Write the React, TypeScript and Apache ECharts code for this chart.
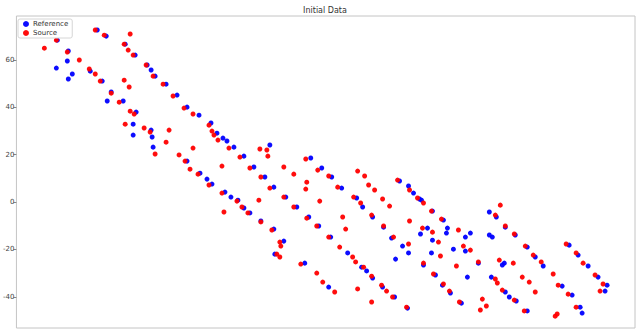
import React, { useEffect, useRef } from "react";
import * as echarts from "echarts";

const chartTitle = "Initial Data";
const seriesNames = ["Reference", "Source"];
const yTickValues = [-40, -20, 0, 20, 40, 60];

const referencePoints: [number, number][] = [
  [41, 68.4], [40, 56.6], [52, 63.8], [51, 59.6], [52, 52.0], [56, 54.1],
  [81, 72.7], [90, 70.1], [109, 66.7], [119, 62.1], [74, 55.3], [86, 51.1],
  [95, 46.5], [91, 42.7], [107, 42.7], [120, 38.0], [131, 57.9], [135, 55.8],
  [139, 53.2], [150, 49.8], [161, 45.2], [171, 40.1], [183, 36.7], [117, 32.9],
  [117, 28.3], [135, 30.4], [136, 27.5], [137, 23.2], [171, 17.3], [184, 12.2],
  [195, 33.4], [201, 29.1], [191, 9.7], [196, 7.6], [207, 27.0], [211, 25.8],
  [218, 23.2], [228, 19.4], [238, 14.8], [254, 24.1], [249, 10.6], [258, 6.3],
  [270, 2.1], [295, 18.6], [306, 14.4], [316, 10.6], [281, -2.1], [293, -6.3],
  [326, 5.9], [341, 1.7], [347, -2.1], [357, -6.3], [384, 8.9], [393, 6.8],
  [398, 3.8], [404, 1.3], [215, 2.1], [209, 4.2], [222, 0.8], [228, -2.5],
  [234, -4.6], [245, -8.0], [258, -11.4], [303, -10.1], [406, 0.8], [417, -3.8],
  [428, -7.6], [432, -11.0], [412, -11.0], [474, -4.2], [481, -6.3], [490, -10.6],
  [268, -16.5], [259, -22.0], [289, -25.8], [315, -14.8], [332, -21.5], [346, -27.5],
  [351, -29.1], [357, -32.1], [313, -35.9], [367, -35.9], [379, -40.1], [392, -44.8],
  [368, -10.6], [376, -15.2], [405, -13.5], [387, -18.6], [393, -21.5], [380, -24.1],
  [431, -13.1], [450, -14.8], [455, -13.1], [417, -16.1], [438, -19.9], [450, -20.7],
  [416, -21.5], [408, -26.6], [463, -25.8], [474, -13.9], [477, -14.8], [500, -13.9],
  [512, -19.0], [520, -23.2], [528, -27.0], [547, -35.5], [557, -39.3], [565, -44.4],
  [567, -46.9], [554, -18.2], [563, -22.4], [573, -27.0], [583, -31.7], [592, -35.1],
  [590, -37.6], [489, -25.8], [487, -26.6], [452, -31.7], [420, -30.8], [476, -31.7],
  [490, -38.0], [494, -40.1], [501, -41.8], [427, -35.1], [435, -38.4], [446, -42.7],
  [512, -46.0],
];

const sourcePoints: [number, number][] = [
  [35, 70.5], [28, 65.0], [40, 68.4], [51, 63.4], [63, 60.0], [79, 72.7],
  [88, 70.5], [114, 71.0], [108, 66.7], [112, 64.2], [117, 62.1], [73, 56.2],
  [79, 54.1], [84, 51.1], [95, 46.0], [103, 42.2], [108, 51.5], [113, 48.6],
  [114, 38.4], [118, 37.2], [130, 57.9], [137, 53.2], [147, 49.8], [157, 44.8],
  [168, 39.7], [177, 37.2], [109, 32.9], [128, 31.3], [134, 29.6], [139, 20.3],
  [150, 25.3], [153, 30.4], [163, 19.9], [169, 17.3], [174, 13.9], [182, 11.8],
  [177, 22.8], [193, 32.5], [196, 30.0], [198, 28.3], [202, 26.2], [193, 7.2],
  [206, 3.8], [206, 15.2], [213, 22.8], [224, 19.0], [234, 14.4], [244, 22.4],
  [251, 22.0], [252, 19.4], [245, 10.6], [254, 5.9], [268, 14.8], [278, 11.8],
  [268, 2.1], [243, 0.8], [291, 8.4], [290, 5.5], [290, 18.2], [302, 13.5],
  [313, 11.0], [278, -2.1], [304, 0.4], [291, -6.8], [322, 6.3], [338, 2.1],
  [345, -0.4], [327, -6.3], [342, 13.1], [349, 11.0], [353, 7.2], [359, 5.1],
  [367, 1.3], [374, -1.7], [356, -5.5], [368, -10.1], [382, 9.3], [394, 5.1],
  [402, 1.7], [394, -8.0], [208, -4.2], [221, 0.4], [226, -2.1], [232, -4.6],
  [245, -8.4], [256, -11.8], [301, -10.1], [330, -11.4], [408, -0.4], [416, -3.8],
  [426, -7.2], [407, -11.0], [443, -11.8], [485, -1.3], [480, -5.5], [490, -10.1],
  [264, -16.9], [265, -18.6], [261, -22.0], [264, -23.2], [285, -26.2], [313, -14.8],
  [324, -19.0], [337, -23.2], [340, -25.3], [348, -27.5], [356, -31.3], [301, -30.0],
  [307, -33.8], [319, -38.0], [342, -36.7], [356, -42.2], [366, -35.1], [371, -37.6],
  [377, -40.1], [391, -44.4], [378, -14.8], [393, -17.7], [417, -12.7], [423, -16.9],
  [448, -18.6], [455, -20.3], [425, -22.8], [408, -25.8], [441, -27.0], [463, -25.3],
  [499, -13.5], [510, -18.6], [518, -22.4], [526, -25.3], [538, -30.4], [543, -35.1],
  [553, -38.9], [561, -44.4], [551, -17.7], [561, -21.5], [568, -25.8], [580, -30.8],
  [588, -34.6], [585, -37.6], [484, -24.5], [498, -25.8], [480, -32.5], [482, -34.2],
  [507, -31.7], [514, -33.8], [520, -38.0], [487, -37.2], [499, -41.4], [428, -34.6],
  [434, -37.6], [444, -42.2], [467, -41.0], [471, -43.9], [465, -45.6], [509, -46.0],
  [540, -48.2], [542, -47.3], [418, -30.4],
];

const X_MIN = 0;
const X_MAX = 620;
const Y_MIN = -53.2;
const Y_MAX = 78.6;

export default function App() {
  const ref = useRef<HTMLDivElement>(null);

  useEffect(() => {
    if (!ref.current) return;
    const chart = echarts.init(ref.current, undefined, { renderer: "svg" });
    const font = "DejaVu Sans";
    chart.setOption({
      animation: false,
      backgroundColor: "#ffffff",
      graphic: [
        {
          type: "text",
          x: 325,
          y: 10,
          style: {
            text: chartTitle,
            fontSize: 8,
            fontFamily: font,
            fill: "#333",
            textAlign: "center",
            textVerticalAlign: "middle",
          },
        },
      ],
      legend: {
        left: 18,
        top: 19,
        orient: "vertical",
        icon: "circle",
        itemWidth: 6,
        itemHeight: 6,
        itemGap: 1,
        padding: [1, 4, 1, 5],
        backgroundColor: "#ffffff",
        borderColor: "#d6d6d6",
        borderWidth: 1,
        borderRadius: 2,
        textStyle: { fontSize: 7, fontFamily: font, color: "#333", lineHeight: 8, padding: [0, 0, 0, -1] },
        data: seriesNames,
      },
      grid: {
        left: 15,
        right: 2,
        top: 16,
        bottom: 1,
        show: true,
        borderColor: "#c4c4c4",
        borderWidth: 1,
        backgroundColor: "transparent",
      },
      xAxis: {
        type: "value",
        min: X_MIN,
        max: X_MAX,
        show: false,
        splitLine: { show: false },
      },
      yAxis: {
        type: "value",
        min: Y_MIN,
        max: Y_MAX,
        axisLine: { show: false },
        splitLine: { show: false },
        axisTick: {
          show: true,
          length: 3,
          lineStyle: { color: "#888" },
          customValues: yTickValues,
        },
        axisLabel: {
          fontSize: 7,
          fontFamily: font,
          color: "#444",
          margin: 2,
          customValues: yTickValues,
        },
      },
      series: [
        {
          name: seriesNames[0],
          type: "scatter",
          data: referencePoints,
          symbolSize: 5,
          itemStyle: { color: "#0000ff", opacity: 0.95 },
          z: 2,
        },
        {
          name: seriesNames[1],
          type: "scatter",
          data: sourcePoints,
          symbolSize: 5,
          itemStyle: { color: "#ff0000", opacity: 0.95 },
          z: 3,
        },
      ],
    });
    return () => chart.dispose();
  }, []);

  return (
    <div
      ref={ref}
      style={{ position: "fixed", left: 0, top: 0, width: 637, height: 329 }}
    />
  );
}
